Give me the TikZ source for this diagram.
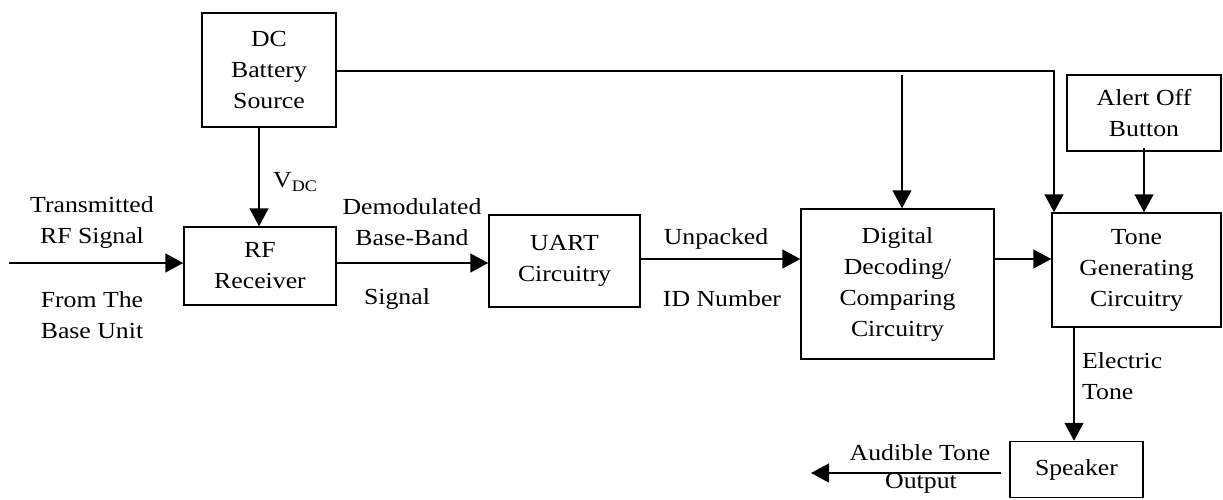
\documentclass[tikz,border=0pt]{standalone}
\usepackage{fontspec}
\setmainfont{Liberation Serif}[FakeStretch=1.12]
\usetikzlibrary{arrows.meta,calc}
\begin{document}
\begin{tikzpicture}[x=1pt,y=-1pt,
  every node/.style={font=\fontsize{23}{31}\selectfont, inner sep=0pt},
  blk/.style={draw, line width=1.5pt, align=center},
  lbl/.style={align=center},
  conn/.style={line width=1.5pt},
  arr/.style={conn, -{Triangle[length=18pt,width=19pt]}},
]
\useasboundingbox (0,0) rectangle (1223,499);
% blocks
\node[blk, minimum width=134pt, minimum height=114pt] (dc) at (269,70) {DC\\Battery\\Source};
\node[blk, minimum width=152pt, minimum height=78pt] (rf) at (260,266) {RF\\Receiver};
\node[blk, minimum width=151pt, minimum height=92pt] (uart) at (564.5,261) {UART\\Circuitry};
\node[blk, minimum width=193pt, minimum height=150pt] (dig) at (897.5,284) {Digital\\Decoding/\\Comparing\\Circuitry};
\node[blk, minimum width=169pt, minimum height=114pt] (tone) at (1136.5,270) {Tone\\Generating\\Circuitry};
\node[blk, minimum width=154pt, minimum height=76pt] (alert) at (1144,113) {Alert Off\\Button};
\node[blk, minimum width=133pt, minimum height=56pt] (spk) at (1076.5,469.5) {Speaker};
% free ends
\coordinate (in) at (9,263);
\coordinate (out) at (811,473);
\coordinate (bus) at (1054,71);
\coordinate (tap) at (902,75);
% connectors
\draw[arr] (in) -- (rf.west |- in);
\draw[arr] ([xshift=-10pt]dc.south) -- ([xshift=-1pt]rf.north);
\draw[arr] (rf.east |- 0,263) -- (uart.west |- 0,263);
\draw[arr] (uart.east |- 0,259) -- (dig.west |- 0,259);
\draw[arr] (dig.east |- 0,259) -- (tone.west |- 0,259);
\draw[arr] (dc.east |- bus) -- (bus) -- (bus |- tone.north);
\draw[arr] (tap) -- (tap |- dig.north);
\draw[arr] ([yshift=4pt]alert.south) -- (alert.south |- tone.north);
\draw[arr] (1074,0 |- tone.south) -- (1074,0 |- spk.north);
\draw[arr] (spk.west |- out) ++(-8,0) -- (out);
% labels
\node[lbl] (l1) at (92,222.5) {Transmitted\\RF Signal};
\node[lbl] (l2) at (92,315) {From The\\Base Unit};
\node[anchor=west] (l3) at (273,182) {V\textsubscript{DC}};
\node[lbl] (l4) at (412,222.5) {Demodulated\\Base-Band};
\node[lbl] (l5) at (397,299) {Signal};
\node[lbl] (l6) at (716,239) {Unpacked};
\node[lbl] (l7) at (722,299) {ID Number};
\node[align=left, anchor=west] (l8) at (1082,376) {Electric\\Tone};
\node[lbl] (l9) at (920,453) {Audible Tone};
\node[lbl] (l10) at (921,483) {Output};
\end{tikzpicture}
\end{document}
